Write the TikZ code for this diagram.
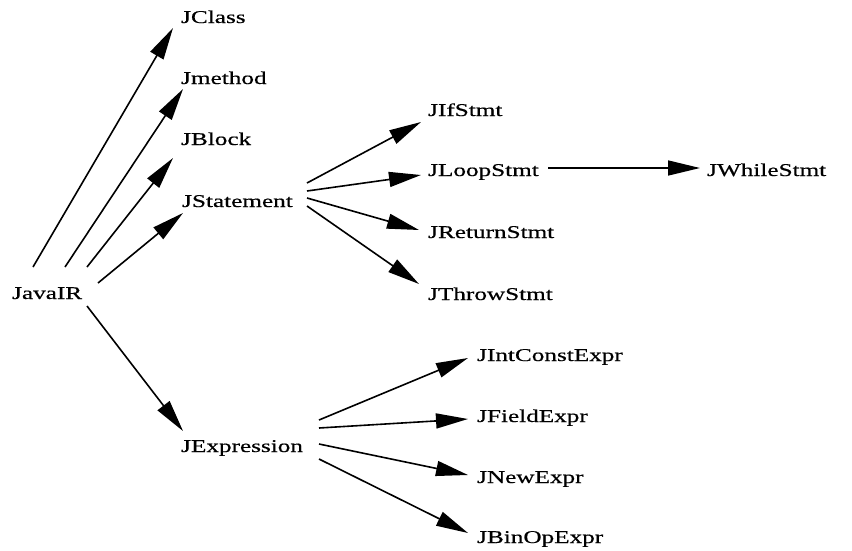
\documentclass[tikz,border=0pt]{standalone}
\usepackage{fontspec}
\setmainfont{Liberation Serif}[FakeStretch=1.4,FakeBold=0.5]
\usetikzlibrary{arrows.meta}
\begin{document}
\begin{tikzpicture}[x=1pt,y=-1pt,
  lbl/.style={anchor=west,inner sep=0pt,text height=12pt,text depth=0pt,font=\fontsize{18}{20}\selectfont},
  arr/.style={line width=1.6pt,-{Triangle[length=32pt,width=15pt]}}]
\useasboundingbox (0,0) rectangle (852,550);
\node[lbl] (javair) at (12,293) {JavaIR};
\node[lbl] (jclass) at (181,17) {JClass};
\node[lbl] (jmethod) at (181,78) {Jmethod};
\node[lbl] (jblock) at (181,139) {JBlock};
\node[lbl] (jstatement) at (182,201) {JStatement};
\node[lbl] (jexpression) at (181,446) {JExpression};
\node[lbl] (jifstmt) at (428,110) {JIfStmt};
\node[lbl] (jloopstmt) at (428,170) {JLoopStmt};
\node[lbl] (jwhilestmt) at (707,170) {JWhileStmt};
\node[lbl] (jreturnstmt) at (428,232) {JReturnStmt};
\node[lbl] (jthrowstmt) at (428,294) {JThrowStmt};
\node[lbl] (jintconstexpr) at (477,355) {JIntConstExpr};
\node[lbl] (jfieldexpr) at (477,416) {JFieldExpr};
\node[lbl] (jnewexpr) at (477,477) {JNewExpr};
\node[lbl] (jbinopexpr) at (477,537) {JBinOpExpr};

\draw[arr] ([shift={(21,-26)}]javair.west) -- ([shift={(-8,11)}]jclass.west);
\draw[arr] ([shift={(53,-26)}]javair.west) -- ([shift={(2,11)}]jmethod.west);
\draw[arr] ([shift={(75,-26)}]javair.west) -- ([shift={(-8,19)}]jblock.west);
\draw[arr] ([shift={(86,-10)}]javair.west) -- ([shift={(1,12)}]jstatement.west);
\draw[arr] ([shift={(75,13)}]javair.west) -- ([shift={(2,-15)}]jexpression.west);

\draw[arr] ([shift={(125,-18)}]jstatement.west) -- ([shift={(-7,12)}]jifstmt.west);
\draw[arr] ([shift={(125,-10)}]jstatement.west) -- ([shift={(-7,5)}]jloopstmt.west);
\draw[arr] ([shift={(125,-3)}]jstatement.west) -- ([shift={(-9,-2)}]jreturnstmt.west);
\draw[arr] ([shift={(125,5)}]jstatement.west) -- ([shift={(-9,-10)}]jthrowstmt.west);

\draw[arr] ([shift={(120,-2)}]jloopstmt.west) -- ([shift={(-7,-2)}]jwhilestmt.west);

\draw[arr] ([shift={(138,-26)}]jexpression.west) -- ([shift={(-9,3)}]jintconstexpr.west);
\draw[arr] ([shift={(138,-18)}]jexpression.west) -- ([shift={(-9,3)}]jfieldexpr.west);
\draw[arr] ([shift={(138,-2)}]jexpression.west) -- ([shift={(-9,-2)}]jnewexpr.west);
\draw[arr] ([shift={(138,13)}]jexpression.west) -- ([shift={(-9,-4)}]jbinopexpr.west);
\end{tikzpicture}
\end{document}
